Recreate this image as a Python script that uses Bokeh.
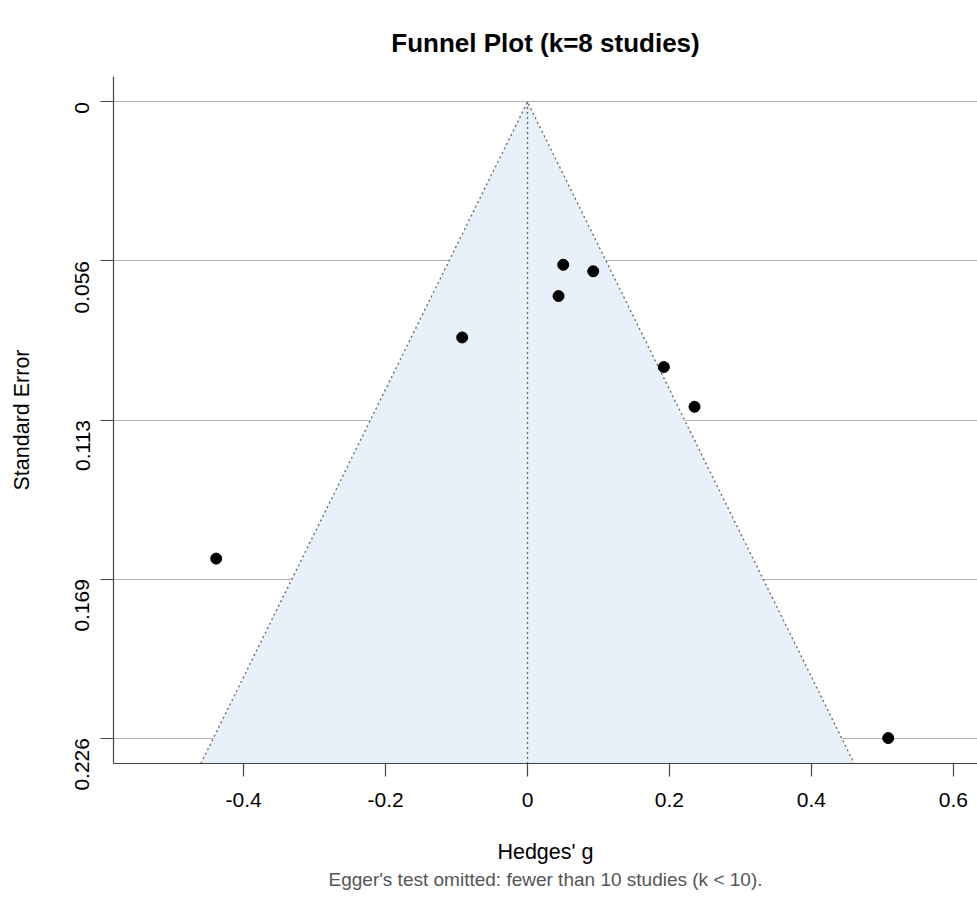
import numpy as np
from bokeh.plotting import figure
from bokeh.models import Range1d, FixedTicker, Title
from bokeh.embed import file_html
from bokeh.resources import INLINE

# Study data (Hedges' g and standard error)
hedges_g = [0.0503, 0.0926, 0.0437, -0.0920, 0.1921, 0.2353, -0.4386, 0.5082]
std_err = [0.0578, 0.0601, 0.0689, 0.0836, 0.0941, 0.1082, 0.1621, 0.2258]
x_ticks = [-0.4, -0.2, 0.0, 0.2, 0.4, 0.6]
x_tick_labels = ["-0.4", "-0.2", "0", "0.2", "0.4", "0.6"]
y_tick_labels = ["0", "0.056", "0.113", "0.169", "0.226"]
pooled = 0.0

FONT = "Liberation Sans"

se_max = max(std_err)
y_ticks = list(np.linspace(0, se_max, len(y_tick_labels)))
y_bottom = se_max * 1.04
y_top = -se_max * 0.04

p = figure(width=977, height=897, output_backend="svg", toolbar_location=None,
           x_range=Range1d(-0.5833, 0.634), y_range=Range1d(y_bottom, y_top),
           min_border_left=113, min_border_right=0, min_border_top=76,
           min_border_bottom=134)
p.outline_line_color = None
p.background_fill_color = "white"
p.border_fill_color = "white"

# title
p.title.text = "Funnel Plot (k=8 studies)"
p.title.text_font = FONT
p.title.text_font_size = "26px"
p.title.text_font_style = "bold"
p.title.align = "center"
p.title.offset = 5
p.title.text_color = "black"
p.title.standoff = 37

# subtitle below
sub = Title(text="Egger's test omitted: fewer than 10 studies (k < 10).",
            text_font=FONT, text_font_size="19px", text_font_style="normal",
            text_color="#555555", align="center", standoff=0)
p.add_layout(sub, "below")

# grid
p.xgrid.visible = False
p.ygrid.ticker = FixedTicker(ticks=y_ticks)
p.ygrid.grid_line_color = "#b0b0b0"
p.ygrid.grid_line_width = 1.2

# funnel region
p.patch([pooled - 1.96 * y_bottom, pooled, pooled + 1.96 * y_bottom],
        [y_bottom, 0, y_bottom], fill_color="#E8F0FA", line_color=None)
p.line([pooled - 1.96 * y_bottom, pooled, pooled + 1.96 * y_bottom],
       [y_bottom, 0, y_bottom], line_color="#6e6e6e", line_dash="2 3", line_width=1.4)
p.line([pooled, pooled], [0, y_bottom], line_color="#6e6e6e", line_dash="2 3", line_width=1.4)

# studies
p.scatter(hedges_g, std_err, size=11, color="black")

# axes
for ax in (p.xaxis[0], p.yaxis[0]):
    ax.axis_line_color = "#444444"
    ax.axis_line_width = 1.2
    ax.major_tick_line_color = "#444444"
    ax.major_tick_line_width = 1.2
    ax.major_tick_out = 13
    ax.major_tick_in = 0
    ax.minor_tick_line_color = None
    ax.major_label_text_font = FONT
    ax.major_label_text_font_size = "21px"
    ax.major_label_text_color = "black"
    ax.axis_label_text_font = FONT
    ax.axis_label_text_font_size = "21.5px"
    ax.axis_label_text_font_style = "normal"
    ax.axis_label_text_color = "black"

p.xaxis.ticker = FixedTicker(ticks=x_ticks)
p.xaxis.major_label_overrides = {t: l for t, l in zip(x_ticks, x_tick_labels)}
p.xaxis.axis_label = "Hedges' g"
p.xaxis.major_label_standoff = 16
p.xaxis.axis_label_standoff = 30

p.yaxis.ticker = FixedTicker(ticks=y_ticks)
p.yaxis.major_label_overrides = {t: l for t, l in zip(y_ticks, y_tick_labels)}
p.yaxis.major_label_orientation = np.pi / 2
p.yaxis.axis_label = "Standard Error"
p.yaxis.major_label_standoff = 18
p.yaxis.axis_label_standoff = 32

open("out.html", "w").write(file_html(p, INLINE))
